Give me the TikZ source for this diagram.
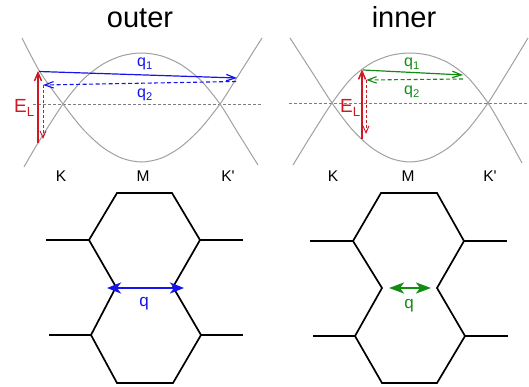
\documentclass[tikz,border=0pt]{standalone}
\usepackage{fontspec}
\setmainfont{Liberation Sans}
\usetikzlibrary{arrows.meta,calc}
\definecolor{qblue}{RGB}{20,20,235}
\definecolor{qgreen}{RGB}{20,140,20}
\definecolor{elred}{RGB}{205,25,35}
\definecolor{bandgray}{RGB}{160,160,160}
\definecolor{fermigray}{RGB}{125,125,125}
\tikzset{
  bandline/.style={draw=bandgray, line width=1pt},
  fermiline/.style={draw=fermigray, line width=0.6pt, dash pattern=on 3pt off 2pt},
  barb/.style={-{Straight Barb[length=9pt,width=6.5pt]}},
  qsolid/.style={barb, line width=1.2pt},
  qdashed/.style={barb, line width=1.1pt, dash pattern=on 4pt off 2.5pt},
  rsolid/.style={draw=elred, line width=1.5pt, -{Straight Barb[length=8pt,width=7pt]}},
  rdashed/.style={draw=elred, line width=0.9pt, dash pattern=on 3pt off 2pt, -{Straight Barb[length=7pt,width=6pt]}},
  hexline/.style={line width=1.7pt, line join=miter},
  bigq/.style={line width=2.5pt, {Stealth[length=14pt,width=11pt,inset=4pt]}-{Stealth[length=14pt,width=11pt,inset=4pt]}},
  ttl/.style={font=\fontsize{29}{31}\selectfont, anchor=base, inner sep=0pt},
  kpt/.style={font=\fontsize{15.5}{17}\selectfont, anchor=base, inner sep=0pt},
  qlbl/.style={font=\fontsize{16}{18}\selectfont, inner sep=0pt},
  ellbl/.style={font=\fontsize{19}{21}\selectfont, text=elred, anchor=base west, inner sep=0pt},
  bqlbl/.style={font=\fontsize{17}{19}\selectfont, inner sep=0pt},
}
\begin{document}
\begin{tikzpicture}[x=1pt,y=-1pt]
\useasboundingbox (0,0) rectangle (529,387);

% titles
\node[ttl] (tout) at (140,28) {outer};
\node[ttl] (tin) at (404,28) {inner};

% ---------------- left band panel ----------------
\draw[fermiline] (33,104) -- (263,104);
\draw[bandline] plot[smooth] coordinates {(22,38) (40,72) (63,104) (82.6,128.7) (102.25,147) (121.9,158.2) (141.5,162) (161.1,158.2) (180.75,147) (200.4,128.7) (220,104) (237,77.5) (262,38)};
\draw[bandline] plot[smooth] coordinates {(24,167) (38,143) (63,104) (82.6,80) (102.25,64.5) (121.9,55.8) (141.5,53) (161.1,55.8) (180.75,64.5) (200.4,80) (220,104) (238,133) (258,165)};

\coordinate (lrb) at (38,143);
\coordinate (lrt) at (38,71);
\coordinate (lq1s) at (39,71.5);
\coordinate (lq1e) at (237,78);
\coordinate (lq2s) at (236,81.5);
\coordinate (lq2e) at (43,85);
\coordinate (lrde) at (43,139);

\draw[qsolid, draw=qblue] (lq1s) -- (lq1e);
\draw[qdashed, draw=qblue] (lq2s) -- (lq2e);
\draw[rsolid] (lrb) -- (lrt);
\draw[rdashed] (lq2e) -- (lrde);

\node[qlbl, text=qblue] (lq1) at (145,64) {q\textsubscript{1}};
\node[qlbl, text=qblue] (lq2) at (145,95) {q\textsubscript{2}};
\node[ellbl] (lel) at (14,113) {E\textsubscript{L}};

\node[kpt] (lK) at (61,182) {K};
\node[kpt] (lM) at (143,182) {M};
\node[kpt] (lKp) at (228,182) {K\textquotesingle};

% ---------------- right band panel ----------------
\draw[fermiline] (289,103) -- (529,103);
\draw[bandline] plot[smooth] coordinates {(290,38) (311,70.5) (332,103) (351.5,128.8) (371,147.25) (390.5,158.3) (410,162) (429.5,158.3) (449,147.25) (468.5,128.8) (488,103) (508,71) (528,38)};
\draw[bandline] plot[smooth] coordinates {(293,165) (312,134) (332,103) (351.5,78.2) (371,63.25) (390.5,55.4) (410,53) (429.5,55.4) (449,63.25) (468.5,78.2) (488,103) (505,132) (522,163)};

\coordinate (rrb) at (362,139.5);
\coordinate (rrt) at (362,69.5);
\coordinate (rq1s) at (363,70);
\coordinate (rq1e) at (463,75);
\coordinate (rq2s) at (463,79);
\coordinate (rq2e) at (366,80);
\coordinate (rrde) at (366,134);

\draw[qsolid, draw=qgreen] (rq1s) -- (rq1e);
\draw[qdashed, draw=qgreen] (rq2s) -- (rq2e);
\draw[rsolid] (rrb) -- (rrt);
\draw[rdashed] (rq2e) -- (rrde);

\node[qlbl, text=qgreen] (rq1) at (412,64) {q\textsubscript{1}};
\node[qlbl, text=qgreen] (rq2) at (412,92) {q\textsubscript{2}};
\node[ellbl] (rel) at (340,113) {E\textsubscript{L}};

\node[kpt] (rK) at (333,182) {K};
\node[kpt] (rM) at (408,182) {M};
\node[kpt] (rKp) at (490,182) {K\textquotesingle};

% ---------------- left hexagons ----------------
\draw[hexline] (116,287) -- (89,240) -- (117,193) -- (172,193) -- (200,240) -- (173,287)
  -- (201,335) -- (173,383) -- (117,383) -- (91,335) -- cycle;
\draw[hexline] (46,240) -- (89,240);
\draw[hexline] (200,240) -- (243,240);
\draw[hexline] (49,335) -- (91,335);
\draw[hexline] (201,335) -- (243,335);
\coordinate (lqa) at (107,288);
\coordinate (lqb) at (184,288);
\draw[bigq, draw=qblue, fill=qblue] (lqa) -- (lqb);
\node[bqlbl, text=qblue] (lq) at (144,304) {q};

% ---------------- right hexagons ----------------
\draw[hexline] (382,288) -- (353,241) -- (381,193) -- (437,193) -- (464,241) -- (437,288)
  -- (465,336) -- (437,383) -- (382,383) -- (355,336) -- cycle;
\draw[hexline] (310,241) -- (353,241);
\draw[hexline] (464,241) -- (507,241);
\draw[hexline] (313,336) -- (355,336);
\draw[hexline] (465,336) -- (508,336);
\coordinate (rqa) at (389,288);
\coordinate (rqb) at (431,288);
\draw[line width=2.5pt, draw=qgreen, fill=qgreen, {Stealth[length=15pt,width=11pt,inset=4pt]}-{Stealth[length=15pt,width=11pt,inset=4pt]}] (rqa) -- (rqb);
\node[bqlbl, text=qgreen] (rq) at (409,306) {q};
\end{tikzpicture}
\end{document}
